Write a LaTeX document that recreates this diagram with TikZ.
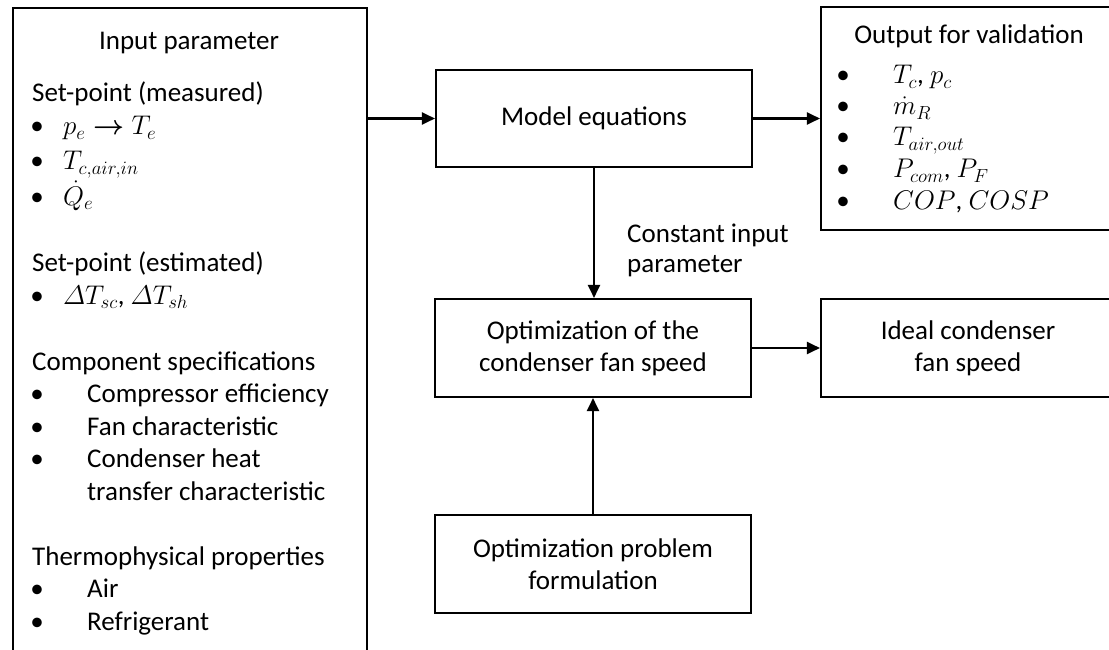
\RequirePackage{fix-cm}
\documentclass[tikz,border=0pt]{standalone}
\usepackage[no-math]{fontspec}
\setmainfont{Carlito}
\usepackage{amsmath}
\usetikzlibrary{arrows.meta}
\begin{document}
\begin{tikzpicture}[x=1pt,y=-1pt,
  box/.style={draw, line width=2.1pt, inner sep=0pt, align=center, font=\fontsize{27}{32}\selectfont},
  arr/.style={line width=2.1pt, -{Triangle[length=13pt,width=12pt]}},
  txt/.style={anchor=base west, inner sep=0pt, font=\fontsize{27}{32}\selectfont},
  ctxt/.style={anchor=base, inner sep=0pt, font=\fontsize{27}{32}\selectfont},
]
\useasboundingbox (0,0) rectangle (1109,650);

% boxes
\node[box, anchor=north west, minimum width=354pt, minimum height=680pt] (inp) at (12,7) {};
\node[box, minimum width=316pt, minimum height=97pt] (mod) at (594,118.5) {Model equations};
\node[box, minimum width=294pt, minimum height=223pt] (out) at (968,118.5) {};
\node[box, minimum width=316pt, minimum height=98pt] (opt) at (593,348) {Optimization of the\\condenser fan speed};
\node[box, minimum width=294pt, minimum height=98pt] (ideal) at (968,348) {Ideal condenser\\fan speed};
\node[box, minimum width=316pt, minimum height=98pt] (prob) at (593,564) {Optimization problem\\formulation};

% connectors
\draw[arr] (inp.east |- mod.west) -- (mod.west);
\draw[arr] (mod.east) -- (out.west |- mod.east);
\draw[arr] (mod.south) -- (opt.north -| mod.south);
\draw[arr] (opt.east) -- (ideal.west);
\draw[arr] (prob.north) -- (opt.south);

\node[txt] (lbl1) at (627,242) {Constant input};
\node[txt] (lbl2) at (627,272) {parameter};

% input box content
\node[ctxt] (inh) at (189,50) {Input parameter};
\node[txt] (s1) at (32,102) {Set-point (measured)};
\node[ctxt] (b1) at (37,135) {•};
\node[txt] (m1) at (63,135) {$p_e \boldsymbol{\rightarrow} T_e$};
\node[ctxt] (b2) at (37,170) {•};
\node[txt] (m2) at (63,170) {$T_{c,air,in}$};
\node[ctxt] (b3) at (37,205) {•};
\node[txt] (m3) at (63,205) {$\dot{Q}_e$};
\node[txt] (s2) at (32,271) {Set-point (estimated)};
\node[ctxt] (b4) at (37,304) {•};
\node[txt] (m4) at (63,304) {$\varDelta T_{sc}$, $\varDelta T_{sh}$};
\node[txt] (s3) at (32,370) {Component specifications};
\node[ctxt] (b5) at (37,402) {•};
\node[txt] (t1) at (87,402) {Compressor efficiency};
\node[ctxt] (b6) at (37,435) {•};
\node[txt] (t2) at (87,435) {Fan characteristic};
\node[ctxt] (b7) at (37,467) {•};
\node[txt] (t3) at (87,467) {Condenser heat};
\node[txt] (t4) at (87,500) {transfer characteristic};
\node[txt] (s4) at (32,565) {Thermophysical properties};
\node[ctxt] (b8) at (37,597) {•};
\node[txt] (t5) at (87,597) {Air};
\node[ctxt] (b9) at (37,630) {•};
\node[txt] (t6) at (87,630) {Refrigerant};

% output box content
\node[ctxt] (outh) at (969,44) {Output for validation};
\node[ctxt] (ob1) at (843,84) {•};
\node[txt] (o1) at (893,84) {$T_c$, $p_c$};
\node[ctxt] (ob2) at (843,115) {•};
\node[txt] (o2) at (893,115) {$\dot{m}_R$};
\node[ctxt] (ob3) at (843,146) {•};
\node[txt] (o3) at (893,146) {$T_{air,out}$};
\node[ctxt] (ob4) at (843,178) {•};
\node[txt] (o4) at (893,178) {$P_{com}$, $P_F$};
\node[ctxt] (ob5) at (843,210) {•};
\node[txt] (o5) at (893,210) {$COP$, $COSP$};
\end{tikzpicture}
\end{document}
